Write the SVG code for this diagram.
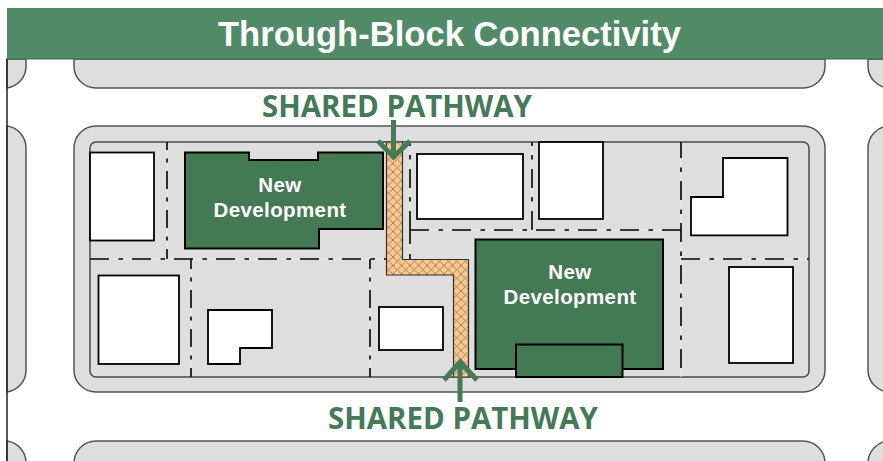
<svg xmlns="http://www.w3.org/2000/svg" width="883" height="461" viewBox="0 0 883 461">
<style>
.block{fill:#dedede;stroke:#555;stroke-width:1.5}
.inner{fill:#dedede;stroke:#4a4a4a;stroke-width:1.5}
.bldg{fill:#fff;stroke:#000;stroke-width:1.8}
.dev{fill:#437a54;stroke:#000;stroke-width:2}
.lot{fill:none;stroke:#000;stroke-width:1.6;stroke-dasharray:19 9.5 4.5 9}
.lotv{fill:none;stroke:#000;stroke-width:1.6;stroke-dasharray:18 8.5 4 8.5;stroke-dashoffset:8}
.faint{fill:none;stroke:#eee;stroke-width:1}
.path{fill:url(#hatch);stroke:#333;stroke-width:1.2}
.arrow{fill:none;stroke:#437a58;stroke-width:5}
.label{font:bold 20.5px "Liberation Sans",Arial,sans-serif;letter-spacing:.4px;fill:#fff;text-anchor:middle}
.sp{font:bold 31px "Open Sans","Noto Sans",sans-serif;fill:#437a58}
</style>
<defs>
<pattern id="hatch" width="8.500" height="8.500" patternUnits="userSpaceOnUse" patternTransform="translate(2 2)">
<rect width="8.500" height="8.500" fill="#fcc88c"/>
<path d="M0 0L8.500 8.500M8.500 0L0 8.500" stroke="#9a7a60" stroke-width="0.9"/>
</pattern>
</defs>
<rect width="883" height="461" fill="#fff"/>
<g id="blocks">
<path class="block" d="M7 59H26V66A22 22 0 0 1 7 88Z"/>
<path class="block" d="M74 59H825V66A22 22 0 0 1 803 88H96A22 22 0 0 1 74 66Z"/>
<path class="block" d="M868 59H885V88H890A22 22 0 0 1 868 66Z"/>
<path class="block" d="M7 126A22 22 0 0 1 26 148V370A22 22 0 0 1 7 392Z"/>
<path class="block" d="M890 126A22 22 0 0 0 868 148V370A22 22 0 0 0 890 392Z"/>
<rect class="block" x="74" y="126" width="751" height="266" rx="22"/>
<path class="block" d="M7 441A22 22 0 0 1 26 463H7Z"/>
<path class="block" d="M74 463A22 22 0 0 1 96 441H803A22 22 0 0 1 825 463Z"/>
<path class="block" d="M890 441A22 22 0 0 0 868 463H890Z"/>
<rect class="inner" x="90" y="142" width="719" height="235" rx="6"/>
<path d="M7 59V461" stroke="#222" stroke-width="1.5" fill="none"/>
</g>
<g id="connectors">
<path class="faint" d="M167 142V259M90 259H385M191 259V377M370 259V377M410 142V259M532 142V230M410 230H681M681 142V377M681 259H809"/>
<path class="lotv" d="M167 259V142"/>
<path class="lot" d="M90 259H402"/>
<path class="lotv" d="M191 259V377"/>
<path class="lotv" d="M370 259V377"/>
<path class="lot" d="M410 230V142"/>
<path class="lot" d="M532 230V142"/>
<path d="M410 230V244M410 254V259" fill="none" stroke="#000" stroke-width="1.6"/>
<path class="lot" d="M410 230H681"/>
<path class="lot" style="stroke-dashoffset:3" d="M681 142V377"/>
<path class="lot" d="M681 259H809"/>
</g>
<g id="pathway">
<path class="path" d="M386.500 142H402.500V259.500H468.500V377H453.500V275H386.500Z"/>
</g>
<g id="buildings">
<rect class="bldg" x="90" y="152.500" width="64" height="88"/>
<rect class="bldg" x="417" y="154" width="106" height="65"/>
<rect class="bldg" x="539" y="142" width="64" height="77"/>
<path class="bldg" d="M723 158H787.500V235.300H691V197H723Z"/>
<rect class="bldg" x="98.500" y="275.500" width="80.500" height="88.500"/>
<path class="bldg" d="M208 310H272V348H240V364H208Z"/>
<rect class="bldg" x="379" y="307" width="64" height="43"/>
<rect class="bldg" x="729" y="267" width="64" height="96"/>
</g>
<g id="dev1">
<path class="dev" d="M185 152.500H249V160H318V152.500H383V229H319V248.500H185Z"/>
<text class="label" x="280" y="192">New</text>
<text class="label" x="280" y="217">Development</text>
</g>
<g id="dev2">
<rect class="dev" x="475.500" y="239.500" width="187.500" height="129.500"/>
<rect class="dev" x="516" y="344.500" width="106.500" height="32.500"/>
<text class="label" x="570" y="279">New</text>
<text class="label" x="570" y="304">Development</text>
</g>
<g id="title">
<rect x="7" y="8" width="876" height="51" fill="#508a66"/>
<path d="M7 59H883" stroke="#3a6a4a" stroke-width="1.2"/>
<text x="449.500" y="46" font-family="Liberation Sans,Arial,sans-serif" font-weight="bold" font-size="34.600" fill="#fff" text-anchor="middle">Through-Block Connectivity</text>
</g>
<g id="arrow-top">
<text class="sp" x="262" y="117" textLength="270" lengthAdjust="spacingAndGlyphs">SHARED PATHWAY</text>
<path class="arrow" d="M393.500 120V157M378 141L393.500 157L410 141"/>
</g>
<g id="arrow-bottom">
<text class="sp" x="328" y="428.500" textLength="270" lengthAdjust="spacingAndGlyphs">SHARED PATHWAY</text>
<path class="arrow" d="M460 402V362M444 380L460 362L477 380"/>
</g>
</svg>
